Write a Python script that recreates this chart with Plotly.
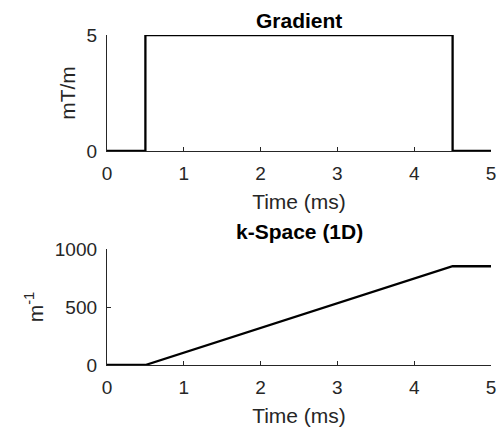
import plotly.graph_objects as go

# Data
t_grad = [0, 0.5, 0.5, 4.5, 4.5, 5]
grad = [0, 0, 5, 5, 0, 0]
t_k = [0, 0.5, 4.5, 5]
kspace = [0, 0, 851.5, 851.5]

x_ticks = [0, 1, 2, 3, 4, 5]
y1_ticks = [0, 5]
y2_ticks = [0, 500, 1000]

FONT = "Liberation Sans, Arial, sans-serif"
AX = "#262626"
TICK = 19
LAB = 21

fig = go.Figure()
fig.add_trace(go.Scatter(x=t_grad, y=grad, mode="lines", line=dict(color="black", width=2.3),
                         xaxis="x", yaxis="y", showlegend=False))
fig.add_trace(go.Scatter(x=t_k, y=kspace, mode="lines", line=dict(color="black", width=2.3),
                         xaxis="x2", yaxis="y2", showlegend=False))

def xax(anchor):
    return dict(range=[0, 5], tickvals=x_ticks, ticks="inside", ticklen=4, tickwidth=1.2,
                tickcolor=AX, showline=True, linecolor=AX, linewidth=1.3, showgrid=False,
                zeroline=False, anchor=anchor, domain=[0, 1], automargin=False,
                tickfont=dict(family=FONT, size=TICK, color=AX),
                title=dict(text="Time (ms)", font=dict(family=FONT, size=LAB, color=AX), standoff=11),
                ticklabelstandoff=5)

def yax(anchor, dom, rng, ticks, title):
    return dict(range=rng, tickvals=ticks, ticks="inside", ticklen=4, tickwidth=1.2,
                tickcolor=AX, showline=True, linecolor=AX, linewidth=1.3, showgrid=False,
                zeroline=False, anchor=anchor, domain=dom, automargin=False,
                tickfont=dict(family=FONT, size=TICK, color=AX),
                title=dict(text=title, font=dict(family=FONT, size=LAB, color=AX), standoff=5),
                ticklabelstandoff=5)

fig.update_layout(
    width=499, height=429,
    margin=dict(l=107, r=8, t=35, b=64),
    paper_bgcolor="white", plot_bgcolor="white",
    xaxis=xax("y"),
    yaxis=yax("x", [0.6485, 1.0], [0, 5], y1_ticks, "mT/m"),
    xaxis2=xax("y2"),
    yaxis2=yax("x2", [0.0, 0.3515], [0, 1000], y2_ticks, "m<sup>-1</sup>"),
    annotations=[
        dict(text="<b>Gradient</b>", x=0.5, y=1.0, xref="paper", yref="paper",
             xanchor="center", yanchor="bottom", yshift=1, showarrow=False,
             font=dict(family=FONT, size=LAB, color="black")),
        dict(text="<b>k-Space (1D)</b>", x=0.5, y=0.3515, xref="paper", yref="paper",
             xanchor="center", yanchor="bottom", yshift=4, showarrow=False,
             font=dict(family=FONT, size=LAB, color="black")),
    ],
)

fig.write_html("out.html")
